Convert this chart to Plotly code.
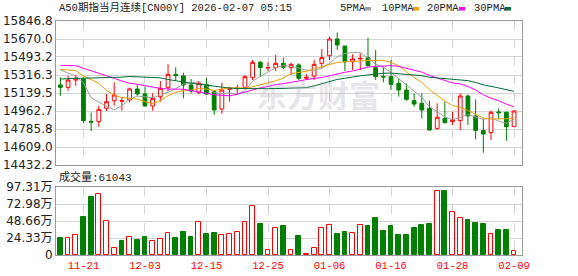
import plotly.graph_objects as go

# ---------------- data ----------------
dates = ["11-18", "11-19", "11-20", "11-21", "11-24", "11-25", "11-26", "11-27", "11-28",
         "12-01", "12-02", "12-03", "12-04", "12-05", "12-08", "12-09", "12-10", "12-11", "12-12",
         "12-15", "12-16", "12-17", "12-18", "12-19", "12-22", "12-23", "12-24", "12-25", "12-26",
         "12-29", "12-30", "12-31", "01-01", "01-02", "01-05", "01-06", "01-07", "01-08", "01-09",
         "01-12", "01-13", "01-14", "01-15", "01-16", "01-19", "01-20", "01-21", "01-22", "01-23",
         "01-26", "01-27", "01-28", "01-29", "01-30", "02-02", "02-03", "02-04", "02-05", "02-06",
         "02-09"]

opens = [15218, 15195, 15267, 15277, 14861, 14858, 14989, 15064, 15059, 15071,
         15179, 15130, 15012, 15103, 15195, 15323, 15307, 15218, 15146, 15225,
         15153, 14982, 15176, 15182, 15195, 15290, 15441, 15385, 15389, 15431,
         15388, 15415, 15284, 15307, 15431, 15506, 15670, 15601, 15447, 15474,
         15487, 15388, 15300, 15300, 15235, 15169, 15064, 15038, 14989, 14792,
         14891, 14858, 14868, 15110, 14914, 14770, 14750, 14953, 14950, 14809]
highs = [15293, 15310, 15316, 15290, 14946, 15015, 15130, 15244, 15097, 15192,
         15225, 15202, 15136, 15257, 15421, 15392, 15339, 15277, 15258, 15284,
         15169, 15241, 15202, 15218, 15316, 15464, 15454, 15441, 15513, 15487,
         15438, 15431, 15323, 15464, 15572, 15693, 15735, 15601, 15520, 15529,
         15683, 15562, 15398, 15464, 15284, 15234, 15136, 15136, 15064, 15038,
         15054, 14956, 15136, 15126, 15077, 14891, 14966, 14989, 14956, 14963]
lows = [15113, 15162, 15212, 14842, 14766, 14809, 14963, 15015, 14966, 15045,
        15113, 15005, 14966, 15054, 15159, 15261, 15087, 15136, 15127, 15120,
        14924, 14937, 15054, 15120, 15186, 15267, 15300, 15356, 15356, 15372,
        15316, 15267, 15267, 15267, 15382, 15464, 15562, 15356, 15366, 15366,
        15398, 15267, 15244, 15169, 15104, 15064, 15005, 14891, 14770, 14776,
        14842, 14825, 14776, 14825, 14684, 14553, 14678, 14881, 14671, 14809]
closes = [15195, 15267, 15284, 14868, 14854, 14979, 15054, 15120, 15064, 15179,
          15130, 15012, 15087, 15185, 15323, 15310, 15218, 15159, 15235, 15130,
          14973, 15169, 15186, 15186, 15300, 15441, 15389, 15389, 15431, 15392,
          15421, 15284, 15293, 15421, 15487, 15670, 15611, 15447, 15474, 15480,
          15408, 15300, 15297, 15225, 15169, 15077, 15031, 14973, 14776, 14901,
          14848, 14874, 15110, 14914, 14770, 14737, 14950, 14946, 14809, 14963]

# volume in 万 (10k contracts)
volumes = [24.3, 23.9, 28.1, 54.4, 83.0, 86.8, 48.2, 9.5, 20.0, 25.3,
           21.5, 25.8, 19.6, 22.4, 31.0, 24.3, 32.9, 25.8, 46.7, 30.1,
           31.5, 28.1, 29.6, 32.4, 46.7, 69.6, 44.4, 6.7, 38.6, 41.5,
           6.7, 27.2, 1.4, 9.5, 38.2, 42.5, 30.1, 32.9, 31.0, 42.5,
           41.5, 53.0, 34.3, 41.5, 28.6, 28.6, 38.6, 42.9, 44.4, 91.1,
           91.6, 61.1, 52.5, 50.1, 45.8, 44.4, 29.6, 35.8, 35.8, 6.1043]

ma5 = [15365, 15336, 15307, 15240, 15094, 15050, 15008, 14975, 15014, 15079,
       15109, 15101, 15094, 15119, 15147, 15183, 15225, 15239, 15249, 15210,
       15143, 15133, 15139, 15129, 15163, 15256, 15300, 15341, 15390, 15408,
       15404, 15383, 15364, 15362, 15381, 15431, 15496, 15527, 15538, 15536,
       15484, 15422, 15392, 15342, 15280, 15214, 15160, 15095, 15005, 14952,
       14906, 14874, 14902, 14929, 14903, 14881, 14896, 14863, 14842, 14881]
ma10 = [15372, 15368, 15359, 15307, 15274, 15235, 15165, 15118, 15095, 15086,
        15080, 15054, 15035, 15066, 15113, 15146, 15163, 15167, 15184, 15179,
        15163, 15179, 15189, 15189, 15187, 15200, 15217, 15240, 15259, 15286,
        15330, 15342, 15353, 15376, 15395, 15418, 15440, 15446, 15450, 15459,
        15458, 15459, 15460, 15440, 15408, 15349, 15291, 15243, 15174, 15116,
        15060, 15017, 14998, 14967, 14927, 14893, 14885, 14883, 14886, 14892]
ma20 = [15411, 15411, 15408, 15382, 15359, 15333, 15310, 15284, 15257, 15235,
        15225, 15211, 15195, 15185, 15179, 15179, 15176, 15163, 15147, 15133,
        15122, 15117, 15112, 15128, 15150, 15173, 15190, 15203, 15222, 15232,
        15247, 15260, 15271, 15283, 15291, 15309, 15328, 15343, 15355, 15372,
        15394, 15401, 15406, 15408, 15401, 15383, 15365, 15345, 15312, 15287,
        15259, 15238, 15229, 15204, 15168, 15121, 15088, 15063, 15030, 15004]
ma30 = [15276, 15282, 15284, 15285, 15286, 15287, 15288, 15290, 15295, 15302,
        15300, 15295, 15292, 15288, 15272, 15258, 15247, 15236, 15226, 15216,
        15204, 15195, 15188, 15184, 15182, 15182, 15182, 15182, 15183, 15184,
        15191, 15192, 15192, 15210, 15232, 15255, 15273, 15284, 15298, 15308,
        15317, 15327, 15334, 15335, 15330, 15322, 15316, 15310, 15294, 15287,
        15283, 15273, 15270, 15261, 15243, 15220, 15205, 15191, 15170, 15156]

price_ticks = [15846.8, 15670.0, 15493.2, 15316.3, 15139.5, 14962.7, 14785.8, 14609.0, 14432.2]
vol_ticks = [0, 24.33, 48.66, 72.98, 97.31]
vol_tick_text = ["0", "24.33万", "48.66万", "72.98万", "97.31万"]
date_ticks = ["11-21", "12-03", "12-15", "12-25", "01-06", "01-16", "01-28", "02-09"]
ma_names = ["5PMA", "10PMA", "20PMA", "30PMA"]
title_text = "A50期指当月连续[CN00Y] 2026-02-07 05:15"

# ---------------- styles ----------------
RED = "#ff0000"
GREEN = "#008000"
MA_COLORS = ["#a0a0a0", "#f0a000", "#ff00ff", "#006e35"]
GRID = "#d4d4d4"
BORDER = "#9a9a9a"
MONO = "Liberation Mono, Noto Sans CJK SC, monospace"
SANS = "DejaVu Sans, Noto Sans CJK SC, sans-serif"

W, H = 578, 276
ML, MR, MT, MB = 56, 56, 21, 21
PW, PH = W - ML - MR, H - MT - MB


def px_x(px):
    return (px - ML) / PW


def px_y(py):
    return (H - MB - py) / PH


fig = go.Figure()

fig.add_trace(go.Candlestick(
    x=dates, open=opens, high=highs, low=lows, close=closes,
    increasing=dict(line=dict(color=RED, width=1), fillcolor="white"),
    decreasing=dict(line=dict(color=GREEN, width=1), fillcolor=GREEN),
    whiskerwidth=0, showlegend=False, hoverinfo="skip",
    xaxis="x", yaxis="y",
))

for name, vals, col in zip(ma_names, [ma5, ma10, ma20, ma30], MA_COLORS):
    fig.add_trace(go.Scatter(x=dates, y=vals, mode="lines", name=name,
                             line=dict(color=col, width=1), showlegend=False,
                             hoverinfo="skip", xaxis="x", yaxis="y"))

vol_up = [(closes[i] >= (closes[i - 1] if i > 0 else opens[i])) for i in range(len(closes))]
fig.add_trace(go.Bar(
    x=dates, y=volumes, width=0.62,
    marker=dict(color=["white" if u else GREEN for u in vol_up],
                line=dict(color=[RED if u else GREEN for u in vol_up], width=1)),
    showlegend=False, hoverinfo="skip", xaxis="x2", yaxis="y2",
))

xr = [-0.57, len(dates) - 1 + 1.03]
common_x = dict(type="category", range=xr, tickmode="array", tickvals=date_ticks,
                showgrid=True, gridcolor=GRID, griddash="dash", gridwidth=1,
                showline=True, mirror=True, linecolor=BORDER, linewidth=1,
                ticks="", zeroline=False, automargin=False, fixedrange=True)

fig.update_layout(
    width=W, height=H, template="none",
    margin=dict(l=ML, r=MR, t=MT, b=MB, pad=0),
    paper_bgcolor="white", plot_bgcolor="white",
    showlegend=False, bargap=0,
    xaxis=dict(domain=[0, 1], anchor="y", showticklabels=False,
               rangeslider=dict(visible=False), **common_x),
    xaxis2=dict(domain=[0, 1], anchor="y2", showticklabels=True,
                tickfont=dict(family=MONO, size=10.5, color=RED), **common_x),
    yaxis=dict(domain=[px_y(165), 1], range=[price_ticks[-1], price_ticks[0]],
               tickmode="array", tickvals=price_ticks,
               ticktext=[f"{v:.1f}" for v in price_ticks],
               tickfont=dict(family=SANS, size=12, color="#222"),
               showgrid=True, gridcolor=GRID, gridwidth=1, zeroline=False,
               showline=True, mirror=True, linecolor=BORDER, linewidth=1,
               ticks="", automargin=False, fixedrange=True),
    yaxis2=dict(domain=[0, px_y(187)], range=[0, vol_ticks[-1]],
                tickmode="array", tickvals=vol_ticks, ticktext=vol_tick_text,
                tickfont=dict(family=SANS, size=12, color="#222"),
                showgrid=True, gridcolor=GRID, gridwidth=1, zeroline=False,
                showline=True, mirror=True, linecolor=BORDER, linewidth=1,
                ticks="", automargin=False, fixedrange=True),
)

annotations = [
    dict(text=title_text, xref="paper", yref="paper", x=px_x(57), y=px_y(8),
         xanchor="left", yanchor="middle", showarrow=False,
         font=dict(family=MONO, size=10.5, color="#222")),
    dict(text=f"成交量:{int(round(volumes[-1] * 10000))}", xref="paper", yref="paper",
         x=px_x(57), y=px_y(177), xanchor="left", yanchor="middle", showarrow=False,
         font=dict(family=MONO, size=11, color="#222")),
    dict(text="<b>东方财富</b>", xref="paper", yref="paper", x=px_x(318), y=px_y(93),
         xanchor="center", yanchor="middle", showarrow=False,
         font=dict(family="Noto Sans CJK SC", size=31, color="rgba(165,165,182,0.28)")),
]

legend_text_x = [338, 380, 425, 472]
legend_box_x = [365, 413, 459, 505]
shapes = []
for name, col, tx, bx in zip(ma_names, MA_COLORS, legend_text_x, legend_box_x):
    annotations.append(dict(text=name, xref="paper", yref="paper", x=px_x(tx), y=px_y(8.5),
                            xanchor="left", yanchor="middle", showarrow=False,
                            font=dict(family=MONO, size=10.5, color="#222")))
    shapes.append(dict(type="rect", xref="paper", yref="paper",
                       x0=px_x(bx), x1=px_x(bx + 6), y0=px_y(10.5), y1=px_y(7),
                       fillcolor=col, line=dict(width=0)))

fig.update_layout(annotations=annotations, shapes=shapes)

fig.write_html("out.html", include_plotlyjs=True, config=dict(displayModeBar=False))
